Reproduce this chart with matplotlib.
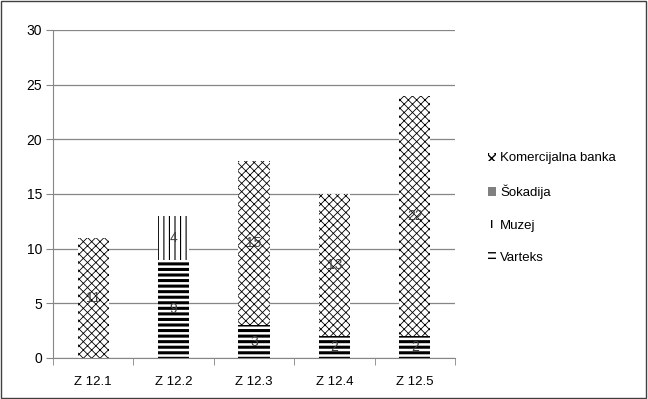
import matplotlib
matplotlib.use("Agg")
import matplotlib.pyplot as plt
from matplotlib.patches import Rectangle
import numpy as np

# data
categories = ["Z 12.1", "Z 12.2", "Z 12.3", "Z 12.4", "Z 12.5"]
varteks = [0, 9, 3, 2, 2]
muzej = [0, 4, 0, 0, 0]
sokadija = [0, 0, 0, 0, 0]
komercijalna = [11, 0, 15, 13, 22]

series = [
    ("Varteks", varteks, "---", 2.2),
    ("Muzej", muzej, "|||", 0.8),
    ("Šokadija", sokadija, None, 0.6),
    ("Komercijalna banka", komercijalna, "xxxx", 0.6),
]

plt.rcParams["font.family"] = ["Liberation Sans", "DejaVu Sans"]
plt.rcParams["hatch.color"] = "black"

fig = plt.figure(figsize=(6.48, 3.99), dpi=100)
ax = fig.add_axes([0.082, 0.103, 0.62, 0.822])

x = np.arange(len(categories))
bottom = np.zeros(len(categories))
handles = []
for name, vals, hatch, hlw in series:
    vals = np.array(vals, dtype=float)
    with plt.rc_context({"hatch.linewidth": hlw}):
        if hatch is None:
            bars = ax.bar(x, vals, 0.39, bottom=bottom, color="#808080",
                          edgecolor="none", label=name)
        else:
            bars = ax.bar(x, vals, 0.39, bottom=bottom, color="white",
                          edgecolor="black", linewidth=0, hatch=hatch, label=name)
    for p in bars:
        if hasattr(p, "set_hatch_linewidth"):
            p.set_hatch_linewidth(hlw)
    for xi, b, v in zip(x, bottom, vals):
        if v > 0:
            ax.text(xi, b + v / 2, f"{int(v)}", ha="center", va="center",
                    fontsize=10, color="#404040")
    bottom += vals
    handles.append(bars)

ax.set_xlim(-0.5, len(categories) - 0.5)
ax.set_ylim(0, 30)
ax.set_yticks(range(0, 31, 5))
ax.set_xticks(x)
ax.set_xticklabels(categories)
ax.set_xticks(np.arange(-0.5, len(categories), 1.0), minor=True)
ax.tick_params(axis="x", which="major", length=0, pad=13, labelsize=9.5)
ax.tick_params(axis="x", which="minor", length=5, color="#868686", direction="out")
ax.tick_params(axis="y", length=5, color="#868686", labelsize=10, pad=3)
ax.grid(axis="y", color="#868686", linewidth=0.9)
ax.set_axisbelow(True)
for s in ["top", "right"]:
    ax.spines[s].set_visible(False)
for s in ["left", "bottom"]:
    ax.spines[s].set_color("#868686")

leg = fig.legend(handles[::-1], [s[0] for s in series][::-1],
                 loc="center left", bbox_to_anchor=(0.735, 0.478),
                 frameon=False, fontsize=9.5, handlelength=0.6,
                 handleheight=0.6, handletextpad=0.3, labelspacing=1.55)

fig.patches.append(Rectangle((0.002, 0.003), 0.995, 0.994, transform=fig.transFigure,
                             fill=False, edgecolor="#404040", linewidth=1))

fig.savefig("out.png", dpi=100)
